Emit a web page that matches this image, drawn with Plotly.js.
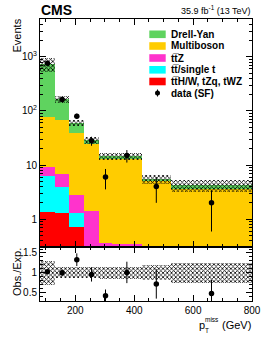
<!DOCTYPE html>
<html>
<head>
<meta charset="utf-8">
<script src="https://cdn.plot.ly/plotly-3.0.1.min.js"></script>
<style>html,body{margin:0;padding:0;background:#fff;}#chart{width:266px;height:347px;}</style>
</head>
<body>
<div id="chart"></div>
<script>
// ---- data ----
const binEdges = [80, 130, 180, 230, 280, 325, 425, 525, 800];
const ttHWtZq   = [1.36, 1.30, 0.72, 0.20, 0.10, 0.08, 0.05, 0.04];
const ttSingleT = [4.99, 2.55, 0.56, 0.12, 0.05, 0.04, 0.03, 0.02];
const ttZ       = [2.80, 2.95, 1.52, 1.10, 0.21, 0.23, 0.10, 0.10];
const multiboson= [66.9, 61.2, 35.8, 22.6, 12.5, 12.4, 4.9, 3.4];
const drellYan  = [664, 95, 21.4, 5.0, 1.8, 1.7, 0.5, 0.65];
const dataSF    = [760, 163, 80, 28, 6, 15, 4, 2];
const dataErr   = [27.6, 12.8, 8.9, 5.3, 2.45, 3.9, 2.0, 1.41];
const ratioVals = [1.03, 1.00, 1.33, 0.96, 0.42, 1.01, 0.72, 0.48];
const ratioErr  = [0.04, 0.08, 0.16, 0.18, 0.16, 0.27, 0.37, 0.34];
const systErr   = [0.30, 0.14, 0.14, 0.14, 0.15, 0.15, 0.19, 0.25];
const legendLabels = ["Drell-Yan", "Multiboson", "tt\u0305Z", "tt\u0305/single t", "tt\u0305H/W, tZq, tWZ", "data (SF)"];

// ---- build ----
const centers = binEdges.slice(0, -1).map((e, i) => (e + binEdges[i + 1]) / 2);
const widths = binEdges.slice(0, -1).map((e, i) => binEdges[i + 1] - e);
const comps = [
  {y: ttHWtZq, c: "#ff0000"},
  {y: ttSingleT, c: "#00ffff"},
  {y: ttZ, c: "#ff33cc"},
  {y: multiboson, c: "#ffcc00"},
  {y: drellYan, c: "#5fd35f"}
];
const traces = [];
let cum = centers.map(() => 0);
comps.forEach((cp, k) => {
  const base = cum.slice();
  const t = {type: "bar", x: centers, y: cp.y, width: widths, marker: {color: cp.c, line: {width: 0}},
    xaxis: "x", yaxis: "y", showlegend: false, hoverinfo: "skip"};
  if (k > 0) t.base = base;
  traces.push(t);
  cum = cum.map((v, i) => v + cp.y[i]);
});
const total = cum;
const hatch = {shape: "x", fgcolor: "#000", bgcolor: "rgba(0,0,0,0)", size: 3, solidity: 0.45, fillmode: "replace"};
traces.push({type: "bar", x: centers, width: widths,
  base: total.map((t, i) => t * (1 - systErr[i])), y: total.map((t, i) => 2 * t * systErr[i]),
  marker: {color: "rgba(0,0,0,0)", line: {width: 0}, pattern: hatch}, xaxis: "x", yaxis: "y", showlegend: false, hoverinfo: "skip"});
traces.push({type: "scatter", mode: "markers", x: centers, y: dataSF,
  error_y: {type: "data", array: dataErr, color: "#000", thickness: 1, width: 0},
  marker: {color: "#000", size: 5.5}, xaxis: "x", yaxis: "y", showlegend: false});
// ratio
traces.push({type: "bar", x: centers, width: widths,
  base: systErr.map(e => 1 - e), y: systErr.map(e => 2 * e),
  marker: {color: "rgba(0,0,0,0)", line: {width: 0}, pattern: hatch}, xaxis: "x2", yaxis: "y2", showlegend: false, hoverinfo: "skip"});
traces.push({type: "scatter", mode: "markers", x: centers, y: ratioVals,
  error_y: {type: "data", array: ratioErr, color: "#000", thickness: 1, width: 0},
  marker: {color: "#000", size: 5.5}, xaxis: "x2", yaxis: "y2", showlegend: false});

// geometry helpers (pixel -> paper)
const L = 40, R = 252, T = 19, B = 301;
const px = v => (v - L) / (R - L);
const py = v => (B - v) / (B - T);
const FONT = "Liberation Sans, Arial, Helvetica, sans-serif";

const logMinor = [];
[0.1, 1, 10, 100, 1000].forEach(d => { for (let m = 2; m <= 9; m++) { const v = m * d; if (v >= 0.3 && v <= 5000) logMinor.push(v); } });

const axBase = {showline: true, linecolor: "#000", linewidth: 1, mirror: "allticks", ticks: "inside",
  tickcolor: "#000", showgrid: false, zeroline: false, tickfont: {family: FONT, size: 10, color: "#000"}};

const layout = {
  width: 266, height: 347, margin: {l: L, r: 266 - R, t: T, b: 347 - B},
  paper_bgcolor: "#fff", plot_bgcolor: "rgba(0,0,0,0)", barmode: "overlay", bargap: 0,
  showlegend: false,
  xaxis: Object.assign({}, axBase, {domain: [0, 1], anchor: "y", range: [80, 800], tickvals: [200, 400, 600, 800],
    showticklabels: false, ticklen: 6, minor: {tickmode: "linear", tick0: 0, dtick: 50, ticks: "inside", ticklen: 3, tickcolor: "#000"}}),
  xaxis2: Object.assign({}, axBase, {domain: [0, 1], anchor: "y2", matches: "x", range: [80, 800], tickvals: [200, 400, 600, 800],
    ticklen: 6, minor: {tickmode: "linear", tick0: 0, dtick: 50, ticks: "inside", ticklen: 3, tickcolor: "#000"}}),
  yaxis: Object.assign({}, axBase, {domain: [0.19, 1], anchor: "x", type: "log", range: [Math.log10(0.3), Math.log10(5000)],
    tickvals: [1, 10, 100, 1000], ticktext: ["1", "10", "10<sup>2</sup>", "10<sup>3</sup>"], ticklen: 6,
    minor: {tickmode: "array", tickvals: logMinor, ticks: "inside", ticklen: 3, tickcolor: "#000"}}),
  yaxis2: Object.assign({}, axBase, {domain: [0, 0.19], anchor: "x2", range: [0.29, 1.64],
    tickvals: [0.5, 1, 1.5], ticktext: ["0.5", "1", "1.5"], ticklen: 6,
    minor: {tickmode: "linear", tick0: 0, dtick: 0.1, ticks: "inside", ticklen: 3, tickcolor: "#000"}}),
  shapes: [],
  annotations: []
};

const ann = (o) => Object.assign({xref: "paper", yref: "paper", showarrow: false, font: {family: FONT, size: 10, color: "#000"}}, o);
layout.annotations.push(ann({text: "<b>CMS</b>", x: px(39), y: py(9.5), xanchor: "left", yanchor: "middle", font: {family: FONT, size: 14, color: "#000"}}));
layout.annotations.push(ann({text: "35.9 fb<sup>-1</sup> (13 TeV)", x: px(253), y: py(10.5), xanchor: "right", yanchor: "middle", font: {family: FONT, size: 9, color: "#000"}}));
layout.annotations.push(ann({text: "Events", x: px(16.5), y: py(17), xanchor: "center", yanchor: "top", textangle: -90, font: {family: FONT, size: 11, color: "#000"}}));
layout.annotations.push(ann({text: "Obs./Exp.", x: px(16.5), y: py(272.5), xanchor: "center", yanchor: "middle", textangle: -90, font: {family: FONT, size: 11, color: "#000"}}));
layout.annotations.push(ann({text: "p", x: px(197), y: py(325), xanchor: "left", yanchor: "middle", font: {family: FONT, size: 11, color: "#000"}}));
layout.annotations.push(ann({text: "miss", x: px(203), y: py(319.5), xanchor: "left", yanchor: "middle", font: {family: FONT, size: 6.5, color: "#000"}}));
layout.annotations.push(ann({text: "T", x: px(203), y: py(330), xanchor: "left", yanchor: "middle", font: {family: FONT, size: 6.5, color: "#000"}}));
layout.annotations.push(ann({text: "(GeV)", x: px(253), y: py(325), xanchor: "right", yanchor: "middle", font: {family: FONT, size: 11, color: "#000"}}));

// legend
const legColors = ["#5fd35f", "#ffcc00", "#ff33cc", "#00ffff", "#ff0000"];
const rowY = [34.3, 46, 58, 69.8, 81.5, 93];
legendLabels.forEach((lab, i) => {
  const yc = rowY[i];
  if (i < 5) {
    layout.shapes.push({type: "rect", xref: "paper", yref: "paper", x0: px(149.3), x1: px(165.7), y0: py(yc - 3.8), y1: py(yc + 3.8),
      fillcolor: legColors[i], line: {width: 0}});
  } else {
    layout.shapes.push({type: "line", xref: "paper", yref: "paper", x0: px(157.5), x1: px(157.5), y0: py(yc - 3.5), y1: py(yc + 3.5), line: {color: "#000", width: 1}});
    layout.shapes.push({type: "circle", xref: "paper", yref: "paper", xsizemode: "pixel", ysizemode: "pixel",
      xanchor: px(157.5), yanchor: py(yc), x0: -2.5, x1: 2.5, y0: -2.5, y1: 2.5, fillcolor: "#000", line: {width: 0}});
  }
  layout.annotations.push(ann({text: "<b>" + lab + "</b>", x: px(168.5), y: py(yc), xanchor: "left", yanchor: "middle", font: {family: FONT, size: 10, color: "#000"}}));
});

Plotly.newPlot("chart", traces, layout, {staticPlot: true, displayModeBar: false});
</script>
</body>
</html>
